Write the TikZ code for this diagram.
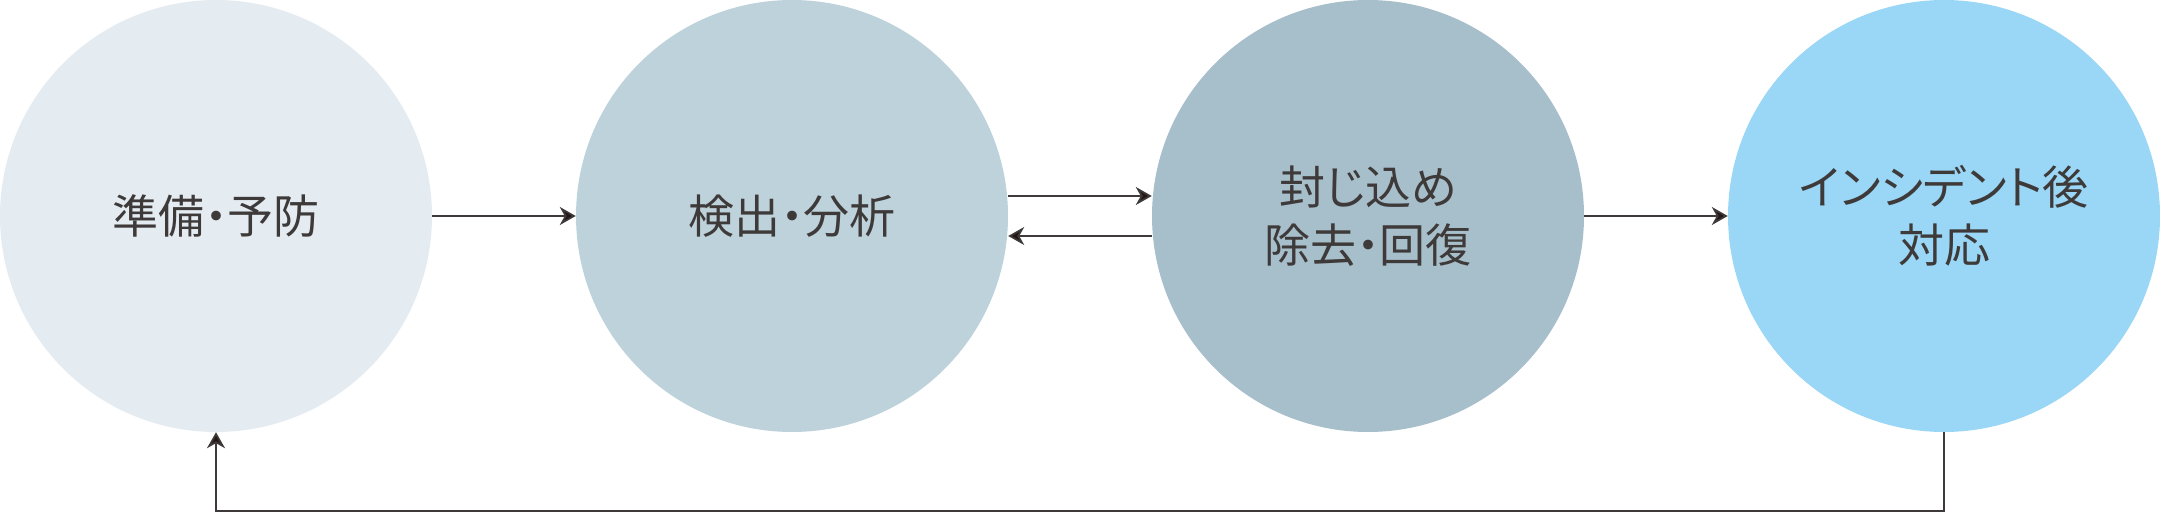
\documentclass[tikz,border=0pt]{standalone}
\usepackage{fontspec}
\newfontfamily\jpfont{Noto Sans CJK JP}[RawFeature={+palt}]
\usepackage{tikz}
\usetikzlibrary{calc,arrows.meta}

\definecolor{prepfill}{HTML}{E4ECF2}
\definecolor{detectfill}{HTML}{BDD2DB}
\definecolor{containfill}{HTML}{A7BECB}
\definecolor{postfill}{HTML}{9AD6F5}
\definecolor{textgray}{HTML}{3E3A39}
\definecolor{tipdark}{HTML}{231815}

\tikzset{
	phase/.style={circle, draw=none, inner sep=0pt, minimum size=432pt,
		text=textgray, align=center,
		font=\jpfont\fontsize{46}{58}\selectfont},
	flowarrow/.style={line width=1.7pt, draw=textgray,
		-{Stealth[length=16pt, width=18pt, inset=5pt, fill=tipdark]}},
}

\begin{document}
\begin{tikzpicture}[x=1pt, y=-1pt]

% parameters %{{{2

	\def\radius{216}
	\def\gap{20}

% canvas %{{{2

	\useasboundingbox (0,0) rectangle (2160,513);

% phases %{{{2

	\node[phase, fill=prepfill]    (prep)    at (216,216)  {準備・予防};
	\node[phase, fill=detectfill]  (detect)  at (792,216)  {検出・分析};
	\node[phase, fill=containfill] (contain) at (1368,216) {封じ込め\\除去・回復};
	\node[phase, fill=postfill]    (post)    at (1944,216) {インシデント後\\対応};

% coordinates %{{{2

	\coordinate (loopR) at ($(post.south)+(0,79)$);
	\coordinate (loopL) at (prep.south |- loopR);

% arrows %{{{2

	\draw[flowarrow] (prep.east) -- (detect.west);
	\draw[flowarrow] ($(detect.east)+(0,-\gap)$) -- ($(contain.west)+(0,-\gap)$);
	\draw[flowarrow] ($(contain.west)+(0,\gap)$) -- ($(detect.east)+(0,\gap)$);
	\draw[flowarrow] (contain.east) -- (post.west);

% feedback loop %{{{2

	\draw[flowarrow] (post.south) -- (loopR) -- (loopL) -- (prep.south);

% closing %{{{2

\end{tikzpicture}
\end{document}
